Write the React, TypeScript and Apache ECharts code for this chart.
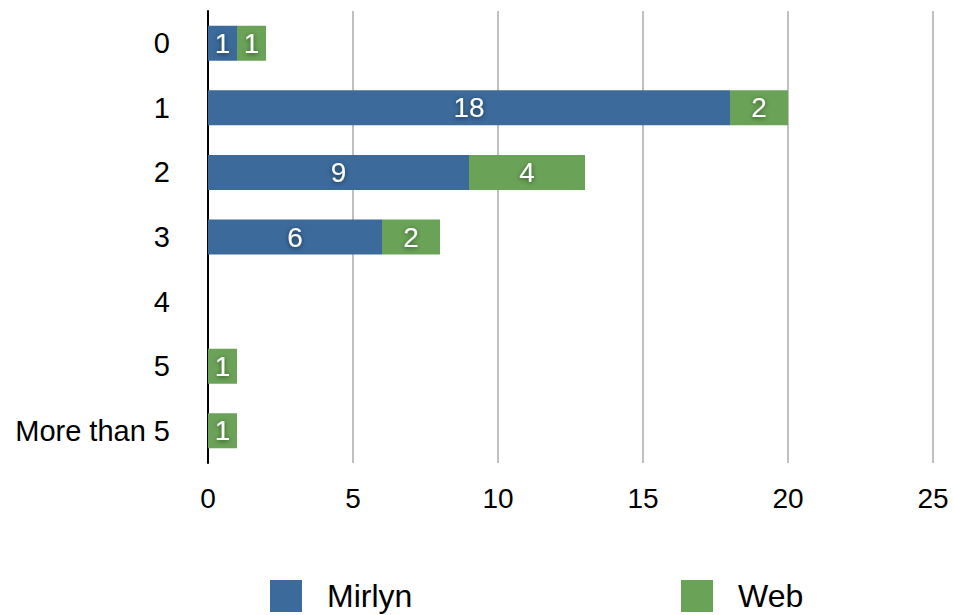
import React, { useEffect, useRef } from "react";
import * as echarts from "echarts";

const categories = ["0", "1", "2", "3", "4", "5", "More than 5"];
const mirlyn = [1, 18, 9, 6, 0, 0, 0];
const web = [1, 2, 4, 2, 0, 1, 1];
const xTicks = { min: 0, max: 25, interval: 5 };

const FONT = "'Liberation Sans', Arial, Helvetica, sans-serif";
const BLUE = "#3b6a9b";
const GREEN = "#6aa357";

export default function App() {
  const ref = useRef<HTMLDivElement>(null);
  useEffect(() => {
    const chart = echarts.init(ref.current!, null, { renderer: "svg" });
    const label = {
      show: true,
      position: "inside",
      color: "#ffffff",
      fontSize: 28,
      fontFamily: FONT,
      textShadowColor: "rgba(0,0,0,0.55)",
      textShadowBlur: 5,
      textShadowOffsetY: 1,
      formatter: (p: any) => (p.value ? String(p.value) : ""),
    };
    const legendText = { fontSize: 32, color: "#000", fontFamily: FONT, padding: [0, 0, 0, 20] };
    chart.setOption({
      animation: false,
      backgroundColor: "#ffffff",
      textStyle: { fontFamily: FONT },
      grid: { left: 208, right: 21, top: 11, bottom: 152, containLabel: false },
      legend: [
        {
          data: ["Mirlyn"],
          left: 270,
          top: 580,
          padding: 0,
          itemWidth: 32,
          itemHeight: 32,
          icon: "rect",
          textStyle: legendText,
        },
        {
          data: ["Web"],
          left: 681,
          top: 580,
          padding: 0,
          itemWidth: 32,
          itemHeight: 32,
          icon: "rect",
          textStyle: legendText,
        },
      ],
      xAxis: {
        type: "value",
        min: xTicks.min,
        max: xTicks.max,
        interval: xTicks.interval,
        axisLine: { show: false },
        axisTick: { show: false },
        axisLabel: { fontSize: 28, color: "#000", margin: 21, fontFamily: FONT },
        splitLine: { show: true, lineStyle: { color: "#c0c0c0", width: 2 } },
      },
      yAxis: {
        type: "category",
        data: categories,
        inverse: true,
        axisLine: { show: true, onZero: false, lineStyle: { color: "#000", width: 2 } },
        axisTick: { show: false },
        axisLabel: { fontSize: 29, color: "#000", margin: 38, fontFamily: FONT },
      },
      series: [
        {
          name: "Mirlyn",
          type: "bar",
          stack: "total",
          data: mirlyn,
          barWidth: 35,
          itemStyle: { color: BLUE },
          label,
        },
        {
          name: "Web",
          type: "bar",
          stack: "total",
          data: web,
          barWidth: 35,
          itemStyle: { color: GREEN },
          label,
        },
      ],
    });
    return () => chart.dispose();
  }, []);
  return <div ref={ref} style={{ width: 954, height: 615, position: "absolute", left: 0, top: 0 }} />;
}
